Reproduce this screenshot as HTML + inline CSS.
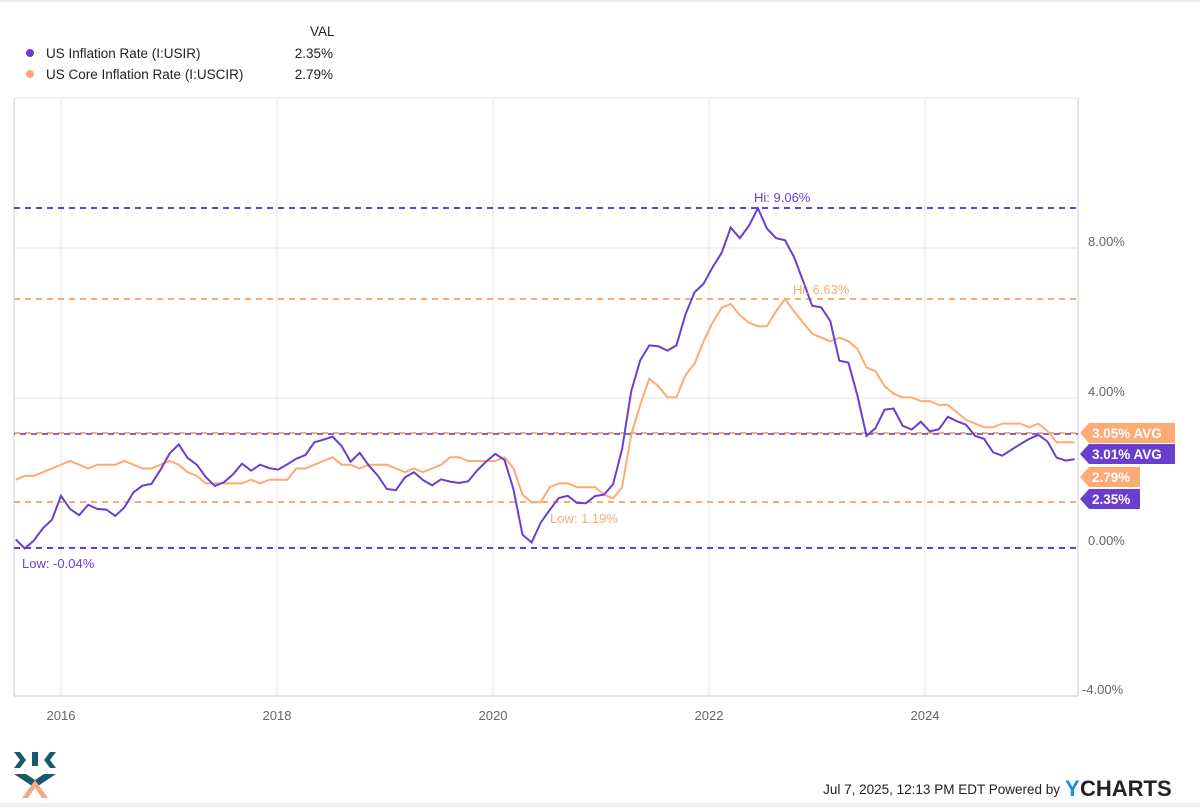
<!DOCTYPE html>
<html><head><meta charset="utf-8"><style>
body{margin:0;background:#fff;font-family:"Liberation Sans",sans-serif;}
svg text{font-family:"Liberation Sans",sans-serif;}
</style></head><body>
<svg id="c" width="1200" height="807" xmlns="http://www.w3.org/2000/svg">
<rect width="1200" height="807" fill="#fff"/>
<rect x="0" y="0" width="1200" height="2" fill="#eee"/>
<rect x="0" y="803" width="1200" height="4" fill="#eee"/>
<text x="310" y="36" font-size="13.5" fill="#222">VAL</text>
<circle cx="30" cy="53" r="4" fill="#6a3fcf"/>
<text x="46" y="58" font-size="13.5" fill="#222">US Inflation Rate (I:USIR)</text>
<text x="333" y="58" font-size="13.5" fill="#222" text-anchor="end">2.35%</text>
<circle cx="30" cy="74" r="4" fill="#fdaa74"/>
<text x="46" y="79" font-size="13.5" fill="#222">US Core Inflation Rate (I:USCIR)</text>
<text x="333" y="79" font-size="13.5" fill="#222" text-anchor="end">2.79%</text>
<g stroke="#e6e6e6" stroke-width="1">
<line x1="14" y1="98" x2="1078" y2="98"/>
<line x1="61" y1="98" x2="61" y2="696"/><line x1="277" y1="98" x2="277" y2="696"/>
<line x1="493" y1="98" x2="493" y2="696"/><line x1="709" y1="98" x2="709" y2="696"/>
<line x1="925" y1="98" x2="925" y2="696"/>
<line x1="14" y1="248" x2="1078" y2="248"/><line x1="14" y1="398" x2="1078" y2="398"/>
<line x1="14" y1="547" x2="1078" y2="547"/>
</g>
<line x1="14" y1="98" x2="14" y2="696" stroke="#ccc"/>
<line x1="14" y1="696" x2="1078" y2="696" stroke="#ccc"/>
<line x1="1078" y1="98" x2="1078" y2="696" stroke="#ccc"/>
<g font-size="13" fill="#666">
<text x="1088" y="246">8.00%</text><text x="1088" y="396">4.00%</text>
<text x="1088" y="545">0.00%</text><text x="1082" y="694">-4.00%</text>
<text x="61" y="720" text-anchor="middle">2016</text><text x="277" y="720" text-anchor="middle">2018</text>
<text x="493" y="720" text-anchor="middle">2020</text><text x="709" y="720" text-anchor="middle">2022</text>
<text x="925" y="720" text-anchor="middle">2024</text>
</g>
<g stroke-width="2" stroke-dasharray="6,5">
<line x1="14" y1="208" x2="1078" y2="208" stroke="#6a3fcf"/>
<line x1="14" y1="299" x2="1078" y2="299" stroke="#fdaa74"/>
<line x1="14" y1="433" x2="1078" y2="433" stroke="#fdaa74"/>
<line x1="14" y1="434" x2="1078" y2="434" stroke="#6a3fcf" stroke-dashoffset="5" opacity="0.8"/>
<line x1="14" y1="502" x2="1078" y2="502" stroke="#fdaa74"/>
<line x1="14" y1="548" x2="1078" y2="548" stroke="#6a3fcf"/>
</g>
<path id="core" fill="none" stroke="#fdaa74" stroke-width="2"/>
<path id="cpi" fill="none" stroke="#6a3fcf" stroke-width="2"/>
<g font-size="13">
<text x="754" y="202" fill="#6a3fcf">Hi: 9.06%</text>
<text x="793" y="294" fill="#fdaa74">Hi: 6.63%</text>
<text x="550" y="523" fill="#fdaa74">Low: 1.19%</text>
<text x="22" y="568" fill="#6a3fcf">Low: -0.04%</text>
</g>
<g font-size="13.5" font-weight="bold" fill="#fff">
<path d="M1080,433 L1089,423 L1175,423 L1175,443 L1089,443 Z" fill="#fdaa74"/>
<text x="1092" y="438">3.05% AVG</text>
<path d="M1080,454 L1089,444 L1175,444 L1175,464 L1089,464 Z" fill="#6a3fcf"/>
<text x="1092" y="459">3.01% AVG</text>
<path d="M1080,477 L1089,467 L1140,467 L1140,487 L1089,487 Z" fill="#fdaa74"/>
<text x="1092" y="482">2.79%</text>
<path d="M1080,499 L1089,489 L1140,489 L1140,509 L1089,509 Z" fill="#6a3fcf"/>
<text x="1092" y="504">2.35%</text>
</g>
<g transform="translate(14,752)">
<path d="M6,0 L12,8 L6,16 L0,16 L6,8 L0,0Z" fill="#1b5a6b"/>
<path d="M36,0 L30,8 L36,16 L42,16 L36,8 L42,0Z" fill="#1b5a6b"/>
<rect x="18" y="0" width="6" height="14" fill="#1b5a6b"/>
<path d="M0,22 L12,22 L21,28 L30,22 L42,22 L21,36Z" fill="#1b5a6b"/>
<path d="M21,28 L8,46 L14,46 L21,36 L28,46 L34,46Z" fill="#f0a98a"/>
</g>
<text x="1060" y="794" font-size="13.5" fill="#222" text-anchor="end">Jul 7, 2025, 12:13 PM EDT Powered by</text>
<text x="1065" y="796" font-size="22" font-weight="bold" fill="#1a8fe0">Y</text>
<text x="1080" y="796" font-size="22" font-weight="bold" fill="#222">CHARTS</text>
</svg>
<script>
var cpi=[0.2,-0.04,0.17,0.5,0.73,
1.37,1.02,0.85,1.13,1.02,1.0,0.83,1.06,1.46,1.64,1.69,2.07,
2.5,2.74,2.38,2.2,1.87,1.63,1.73,1.94,2.23,2.04,2.2,2.11,
2.07,2.21,2.36,2.46,2.8,2.87,2.95,2.7,2.28,2.52,2.18,1.91,
1.55,1.52,1.86,2.0,1.79,1.65,1.81,1.75,1.71,1.76,2.05,2.29,
2.49,2.33,1.54,0.33,0.12,0.65,0.99,1.31,1.37,1.18,1.17,1.36,
1.4,1.68,2.62,4.16,4.99,5.39,5.37,5.25,5.39,6.22,6.81,7.04,
7.48,7.87,8.54,8.26,8.58,9.06,8.52,8.26,8.2,7.75,7.11,6.45,
6.41,6.04,4.98,4.93,4.05,2.97,3.18,3.67,3.7,3.24,3.14,3.35,
3.09,3.15,3.48,3.36,3.27,2.97,2.89,2.53,2.44,2.6,2.75,2.89,
3.0,2.82,2.39,2.31,2.35];
var core=[1.8,1.9,1.9,2.0,2.1,
2.2,2.3,2.2,2.1,2.2,2.2,2.2,2.3,2.2,2.1,2.1,2.2,
2.3,2.2,2.0,1.9,1.7,1.7,1.7,1.7,1.7,1.8,1.7,1.8,
1.8,1.8,2.1,2.1,2.2,2.3,2.4,2.2,2.2,2.1,2.2,2.2,
2.2,2.1,2.0,2.1,2.0,2.1,2.2,2.4,2.4,2.3,2.3,2.3,
2.3,2.4,2.1,1.4,1.19,1.2,1.6,1.7,1.7,1.6,1.6,1.6,
1.4,1.3,1.6,3.0,3.8,4.5,4.3,4.0,4.0,4.6,4.9,5.5,
6.0,6.4,6.5,6.2,6.0,5.9,5.9,6.3,6.63,6.3,6.0,5.7,
5.6,5.5,5.6,5.5,5.3,4.8,4.7,4.3,4.1,4.0,4.0,3.9,
3.9,3.8,3.8,3.6,3.4,3.3,3.2,3.2,3.3,3.3,3.3,3.2,
3.3,3.1,2.8,2.8,2.8];
function d(a){return a.map(function(v,i){var x=61+(i-5)*9.05;if(x<14)x=14;if(x>1078)x=1078;return (i?'L':'M')+x.toFixed(1)+','+(547-v*37.4).toFixed(1);}).join(' ');}
document.getElementById('cpi').setAttribute('d',d(cpi));
document.getElementById('core').setAttribute('d',d(core));
</script>
</body></html>
